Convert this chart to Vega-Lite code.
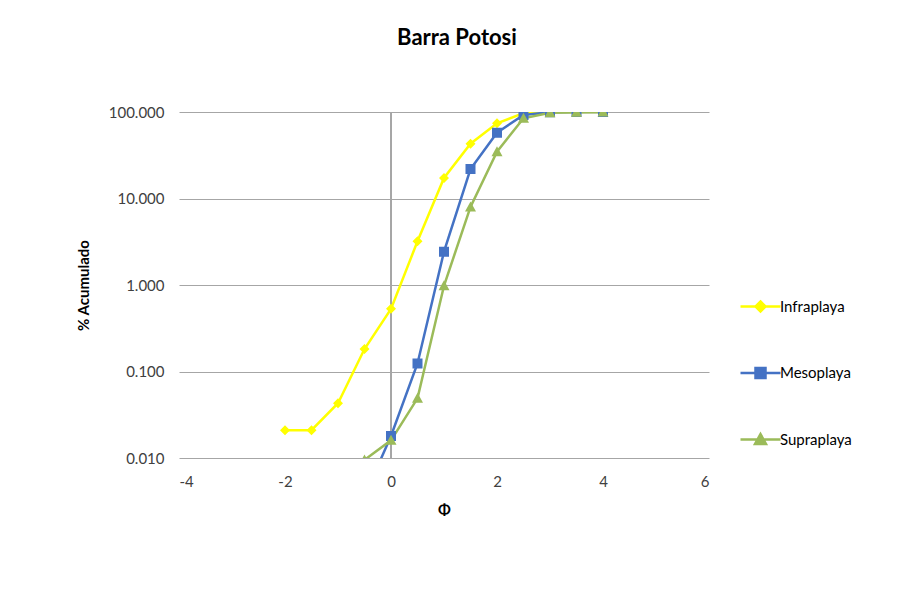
{
  "$schema": "https://vega.github.io/schema/vega-lite/v6.json",
  "autosize": "none",
  "width": 530,
  "height": 346,
  "padding": {"left": 179, "top": 112, "right": 188, "bottom": 133},
  "background": "white",
  "title": {"text": "Barra Potosi", "font": "Lato", "fontSize": 22, "fontWeight": "bold", "color": "#000000", "anchor": "middle", "offset": 55, "dx": 13},
  "data": {"values": [
    {"serie": "Infraplaya", "phi": -2, "pct": 0.021},
    {"serie": "Infraplaya", "phi": -1.5, "pct": 0.021},
    {"serie": "Infraplaya", "phi": -1, "pct": 0.043},
    {"serie": "Infraplaya", "phi": -0.5, "pct": 0.182},
    {"serie": "Infraplaya", "phi": 0, "pct": 0.53},
    {"serie": "Infraplaya", "phi": 0.5, "pct": 3.2},
    {"serie": "Infraplaya", "phi": 1, "pct": 17.3},
    {"serie": "Infraplaya", "phi": 1.5, "pct": 43},
    {"serie": "Infraplaya", "phi": 2, "pct": 74},
    {"serie": "Infraplaya", "phi": 2.5, "pct": 97},
    {"serie": "Infraplaya", "phi": 3, "pct": 100},
    {"serie": "Infraplaya", "phi": 3.5, "pct": 100},
    {"serie": "Infraplaya", "phi": 4, "pct": 100},
    {"serie": "Mesoplaya", "phi": -0.5, "pct": 0.0036},
    {"serie": "Mesoplaya", "phi": 0, "pct": 0.018},
    {"serie": "Mesoplaya", "phi": 0.5, "pct": 0.124},
    {"serie": "Mesoplaya", "phi": 1, "pct": 2.43},
    {"serie": "Mesoplaya", "phi": 1.5, "pct": 21.9},
    {"serie": "Mesoplaya", "phi": 2, "pct": 57.7},
    {"serie": "Mesoplaya", "phi": 2.5, "pct": 92.3},
    {"serie": "Mesoplaya", "phi": 3, "pct": 99.5},
    {"serie": "Mesoplaya", "phi": 3.5, "pct": 100},
    {"serie": "Mesoplaya", "phi": 4, "pct": 100},
    {"serie": "Supraplaya", "phi": -0.5, "pct": 0.0095},
    {"serie": "Supraplaya", "phi": 0, "pct": 0.016},
    {"serie": "Supraplaya", "phi": 0.5, "pct": 0.049},
    {"serie": "Supraplaya", "phi": 1, "pct": 0.98},
    {"serie": "Supraplaya", "phi": 1.5, "pct": 8.0},
    {"serie": "Supraplaya", "phi": 2, "pct": 34.8},
    {"serie": "Supraplaya", "phi": 2.5, "pct": 84.5},
    {"serie": "Supraplaya", "phi": 3, "pct": 98},
    {"serie": "Supraplaya", "phi": 3.5, "pct": 99.5},
    {"serie": "Supraplaya", "phi": 4, "pct": 100}
  ]},
  "layer": [
    {
      "mark": {"type": "line", "strokeWidth": 2.5, "clip": true},
      "encoding": {
        "x": {
          "field": "phi", "type": "quantitative", "title": "Φ",
          "scale": {"domain": [-4, 6], "nice": false, "zero": false},
          "axis": {"values": [-4, -2, 0, 2, 4, 6], "labelExpr": "'' + datum.value", "grid": false, "domain": false, "ticks": false, "labelPadding": 16, "titlePadding": 13}
        },
        "y": {
          "field": "pct", "type": "quantitative", "title": "% Acumulado",
          "scale": {"type": "log", "domain": [0.01, 100], "nice": false},
          "axis": {"values": [0.01, 0.1, 1, 10, 100], "format": ".3f", "grid": true, "domain": false, "ticks": false, "labelPadding": 15, "titlePadding": 17}
        },
        "color": {
          "field": "serie", "type": "nominal",
          "scale": {"domain": ["Infraplaya", "Mesoplaya", "Supraplaya"], "range": ["#FFFF00", "#4472C4", "#9BBB59"]}
        }
      }
    },
    {
      "mark": {"type": "rule", "color": "#a6a6a6", "strokeWidth": 1},
      "encoding": {"x": {"datum": 0, "type": "quantitative"}}
    },
    {
      "mark": {"type": "point", "filled": true, "opacity": 1, "strokeWidth": 0, "size": 100, "clip": true},
      "encoding": {
        "x": {"field": "phi", "type": "quantitative"},
        "y": {"field": "pct", "type": "quantitative"},
        "color": {"field": "serie", "type": "nominal"},
        "shape": {"field": "serie", "type": "nominal",
          "scale": {"domain": ["Infraplaya", "Mesoplaya", "Supraplaya"],
                    "range": ["M-4,0H4M0,-1L1,0L0,1L-1,0Z", "M-4,0H4M-1,-1H1V1H-1Z", "M-4,0H4M0,-1.1L1.1,0.9L-1.1,0.9Z"]}}
      }
    }
  ],
  "config": {
    "view": {"stroke": null},
    "axis": {
      "labelFont": "Lato", "labelFontSize": 15, "labelColor": "#404040",
      "titleFont": "Lato", "titleFontSize": 15, "titleFontWeight": "bold", "titleColor": "#000000",
      "gridColor": "#a6a6a6", "gridWidth": 1
    },
    "legend": {
      "orient": "none", "legendX": 574, "legendY": 187,
      "title": null,
      "labelFont": "Lato", "labelFontSize": 15, "labelColor": "#000000",
      "symbolSize": 100, "symbolStrokeWidth": 2.5, "rowPadding": 45.5, "labelOffset": 12,
      "symbolOffset": 0
    }
  }
}
